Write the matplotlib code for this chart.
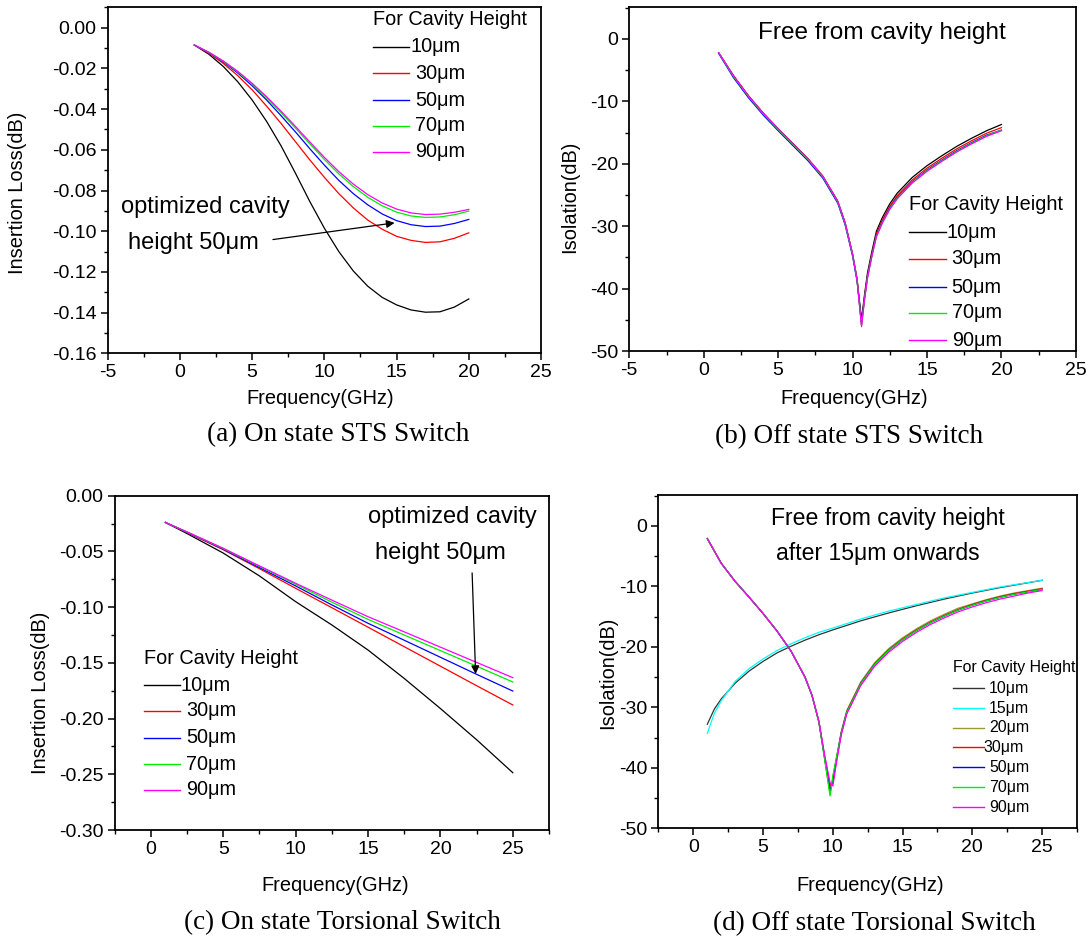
import matplotlib
matplotlib.use("Agg")
import matplotlib.pyplot as plt
from matplotlib.ticker import MultipleLocator, FormatStrFormatter
from matplotlib.lines import Line2D

plt.rcParams['font.family'] = ['Liberation Sans', 'DejaVu Sans']
plt.rcParams['axes.unicode_minus'] = False

# ---------------- data ----------------
heights5 = ["10μm", "30μm", "50μm", "70μm", "90μm"]
colors5 = ["#000000", "#ff0000", "#0000ff", "#00ee00", "#ff00ff"]

# (a) On state STS switch: insertion loss (dB)
fa = [1, 2, 3, 4, 5, 6, 7, 8, 9, 10, 11, 12, 13, 14, 15, 16, 17, 18, 19, 20]
a_10 = [-0.0085, -0.0130, -0.0190, -0.0265, -0.0355, -0.0460, -0.0580, -0.0715, -0.0855, -0.0985,
        -0.1100, -0.1195, -0.1270, -0.1325, -0.1362, -0.1387, -0.1398, -0.1396, -0.1373, -0.1333]
a_30 = [-0.0085, -0.0125, -0.0175, -0.0235, -0.0305, -0.0385, -0.0470, -0.0560, -0.0650, -0.0735,
        -0.0815, -0.0885, -0.0945, -0.0990, -0.1025, -0.1045, -0.1055, -0.1052, -0.1035, -0.1008]
a_50 = [-0.0085, -0.0122, -0.0168, -0.0222, -0.0285, -0.0355, -0.0432, -0.0512, -0.0595, -0.0675,
        -0.0750, -0.0815, -0.0870, -0.0915, -0.0948, -0.0968, -0.0977, -0.0975, -0.0962, -0.0942]
a_70 = [-0.0085, -0.0121, -0.0165, -0.0217, -0.0277, -0.0344, -0.0417, -0.0493, -0.0571, -0.0647,
        -0.0718, -0.0780, -0.0833, -0.0875, -0.0906, -0.0925, -0.0932, -0.0930, -0.0919, -0.0901]
a_90 = [-0.0085, -0.0120, -0.0163, -0.0214, -0.0273, -0.0339, -0.0410, -0.0485, -0.0562, -0.0637,
        -0.0707, -0.0768, -0.0820, -0.0861, -0.0891, -0.0910, -0.0918, -0.0916, -0.0907, -0.0893]

# (b) Off state STS switch: isolation (dB)
fb = [1, 2, 3, 4, 5, 6, 7, 8, 9, 9.5, 10, 10.3, 10.6, 10.8, 11.0, 11.3, 11.6, 12, 12.5, 13,
      14, 15, 16, 17, 18, 19, 20]
b_10 = [-2.2, -5.9, -9.1, -11.9, -14.4, -16.8, -19.2, -22.0, -26.0, -29.5, -34.5, -38.5, -45.0,
        -41.0, -37.5, -34.0, -30.8, -28.6, -26.4, -24.7, -22.2, -20.3, -18.7, -17.2, -15.9, -14.7, -13.7]
b_30 = [-2.2, -5.9, -9.1, -11.9, -14.4, -16.8, -19.2, -22.0, -26.0, -29.5, -34.5, -38.5, -45.8,
        -41.4, -37.9, -34.4, -31.2, -29.0, -26.8, -25.1, -22.6, -20.7, -19.1, -17.6, -16.3, -15.1, -14.2]
b_50 = [-2.3, -6.2, -9.4, -12.2, -14.7, -17.1, -19.5, -22.3, -26.3, -29.8, -34.8, -38.8, -45.5,
        -41.6, -38.1, -34.6, -31.5, -29.3, -27.1, -25.4, -22.9, -21.0, -19.4, -17.9, -16.6, -15.4, -14.6]
b_70 = [-2.2, -6.0, -9.2, -12.0, -14.5, -16.9, -19.3, -22.1, -26.1, -29.6, -34.6, -38.6, -45.9,
        -41.7, -38.2, -34.7, -31.6, -29.4, -27.2, -25.5, -23.0, -21.1, -19.5, -18.0, -16.7, -15.5, -14.6]
b_90 = [-2.2, -5.9, -9.1, -11.9, -14.4, -16.8, -19.2, -22.0, -26.0, -29.5, -34.5, -38.6, -46.1,
        -41.8, -38.3, -34.8, -31.7, -29.5, -27.3, -25.6, -23.1, -21.2, -19.6, -18.1, -16.8, -15.6, -14.7]

# (c) On state torsional switch: insertion loss (dB)
fc = [1, 2.5, 5, 7.5, 10, 12.5, 15, 17.5, 20, 22.5, 25]
c_10 = [-0.024, -0.034, -0.0515, -0.072, -0.0951, -0.116, -0.1385, -0.164, -0.191, -0.219, -0.2486]
c_30 = [-0.024, -0.033, -0.0485, -0.0655, -0.0831, -0.1005, -0.118, -0.1355, -0.153, -0.1705, -0.1878]
c_50 = [-0.024, -0.0328, -0.048, -0.0645, -0.081, -0.098, -0.1145, -0.1297, -0.145, -0.1603, -0.1753]
c_70 = [-0.024, -0.0326, -0.0475, -0.0635, -0.0795, -0.0955, -0.111, -0.125, -0.139, -0.153, -0.1672]
c_90 = [-0.024, -0.0325, -0.0472, -0.063, -0.0786, -0.0937, -0.1086, -0.1222, -0.1359, -0.1496, -0.1633]

# (d) Off state torsional switch: isolation (dB)
heights7 = ["10μm", "15μm", "20μm", "30μm", "50μm", "70μm", "90μm"]
colors7 = ["#333333", "#00ffff", "#999933", "#ff0000", "#0000ff", "#00ee00", "#ff00ff"]
fd_mono = [1, 1.5, 2, 3, 4, 5, 6, 7, 8, 9, 10, 12, 14, 16, 18, 20, 22, 25]
d_10 = [-32.8, -30.3, -28.6, -26.0, -24.0, -22.4, -21.0, -19.9, -18.9, -18.0, -17.2, -15.7,
        -14.4, -13.2, -12.1, -11.1, -10.2, -9.0]
d_15 = [-34.3, -31.0, -28.9, -25.7, -23.6, -22.0, -20.6, -19.5, -18.5, -17.6, -16.9, -15.4,
        -14.1, -13.0, -11.9, -11.0, -10.1, -9.0]
fd = [1, 2, 3, 4, 5, 6, 7, 8, 8.5, 9, 9.4, 9.8, 10.0, 10.2, 10.6, 11, 12, 13, 14, 15, 16, 17,
      18, 19, 20, 21, 22, 23, 24, 25]
d_20 = [-2.1, -6.2, -9.2, -11.8, -14.5, -17.4, -20.7, -25.0, -28.0, -32.5, -38.5, -44.5, -41.5,
        -39.0, -34.0, -30.5, -25.8, -22.6, -20.3, -18.5, -17.0, -15.7, -14.6, -13.6, -12.9, -12.2,
        -11.6, -11.1, -10.7, -10.3]
d_30 = [-2.1, -6.2, -9.2, -11.8, -14.5, -17.4, -20.7, -25.0, -28.0, -32.4, -38.0, -43.0, -42.5,
        -39.5, -34.2, -30.7, -26.0, -22.8, -20.5, -18.7, -17.2, -15.9, -14.8, -13.8, -13.0, -12.3,
        -11.7, -11.2, -10.8, -10.4]
d_50 = [-2.1, -6.2, -9.2, -11.8, -14.5, -17.4, -20.7, -25.0, -28.0, -32.4, -38.2, -43.8, -42.0,
        -39.3, -34.3, -30.8, -26.1, -22.9, -20.6, -18.8, -17.3, -16.0, -14.9, -13.9, -13.1, -12.4,
        -11.8, -11.3, -10.9, -10.5]
d_70 = [-2.1, -6.2, -9.2, -11.8, -14.5, -17.4, -20.7, -25.0, -28.0, -32.5, -38.4, -44.6, -41.3,
        -39.0, -34.3, -30.8, -26.1, -22.9, -20.6, -18.8, -17.3, -16.0, -14.9, -13.9, -13.1, -12.4,
        -11.8, -11.3, -10.9, -10.5]
d_90 = [-2.1, -6.2, -9.2, -11.8, -14.5, -17.4, -20.7, -25.0, -28.0, -32.3, -37.8, -42.5, -43.0,
        -40.0, -34.6, -31.1, -26.4, -23.2, -20.9, -19.1, -17.6, -16.3, -15.2, -14.2, -13.4, -12.7,
        -12.1, -11.6, -11.1, -10.7]

# ---------------- figure ----------------
W, H = 1089, 938
fig = plt.figure(figsize=(W / 100, H / 100), dpi=100)


def add_ax(l, t, r, b):
    return fig.add_axes([l / W, 1 - b / H, (r - l) / W, (b - t) / H])


axa = add_ax(107.7, 7.0, 541.0, 353.3)
axb = add_ax(629.3, 7.3, 1075.9, 351.0)
axc = add_ax(114.7, 495.7, 549.0, 830.0)
axd = add_ax(658.5, 495.0, 1077.0, 828.3)

TICK_FS = 14
LAB_FS = 14.4
LEG_FS = 14.3
LW = 0.9


def style(ax, xmaj, xmin, ymaj, ymin, yfmt):
    for s in ax.spines.values():
        s.set_linewidth(1.3)
    ax.xaxis.set_major_locator(MultipleLocator(xmaj))
    ax.xaxis.set_minor_locator(MultipleLocator(xmin))
    ax.yaxis.set_major_locator(MultipleLocator(ymaj))
    ax.yaxis.set_minor_locator(MultipleLocator(ymin))
    ax.yaxis.set_major_formatter(FormatStrFormatter(yfmt))
    ax.tick_params(which='major', direction='out', length=5, width=1.1, labelsize=TICK_FS, pad=3)
    ax.tick_params(which='minor', direction='out', length=3, width=1.0)
    ax.tick_params(top=False, right=False, which='both')


def place_labels(ax, xl, xpos, yl, ypos):
    ax.set_xlabel(xl, fontsize=LAB_FS)
    ax.set_ylabel(yl, fontsize=LAB_FS)
    ax.xaxis.set_label_coords(xpos[0] / W, 1 - xpos[1] / H, transform=fig.transFigure)
    ax.yaxis.set_label_coords(ypos[0] / W, 1 - ypos[1] / H, transform=fig.transFigure)
    ax.xaxis.label.set_va('center')
    ax.yaxis.label.set_va('center')


def manual_legend(ax, title, tpos, labels, colors, x0, x1, ys, xtexts, fs):
    ax.text(tpos[0], tpos[1], title, transform=ax.transAxes, fontsize=fs, ha='left', va='center')
    for lab, col, y, xt in zip(labels, colors, ys, xtexts):
        ax.add_line(Line2D([x0, x1], [y, y], transform=ax.transAxes, color=col, lw=1.0))
        ax.text(xt, y, lab, transform=ax.transAxes, fontsize=fs, ha='left', va='center')


# ---- (a)
for y, c in zip([a_10, a_30, a_50, a_70, a_90], colors5):
    axa.plot(fa, y, color=c, lw=LW)
axa.set_xlim(-5, 25)
axa.set_ylim(-0.16, 0.0102)
style(axa, 5, 2.5, 0.02, 0.01, '%.2f')
place_labels(axa, "Frequency(GHz)", (320, 398), "Insertion Loss(dB)", (18, 193))
manual_legend(axa, "For Cavity Height", (0.6127, 0.9625), heights5, colors5, 0.6127, 0.6959,
              [0.8845, 0.8094, 0.7314, 0.6564, 0.5813],
              [0.698, 0.7097, 0.7097, 0.7097, 0.7097], LEG_FS)
axa.text(0.0307, 0.4225, "optimized cavity", transform=axa.transAxes, fontsize=17, va='center')
axa.text(0.046, 0.3185, "height 50μm", transform=axa.transAxes, fontsize=17, va='center')
axa.annotate("", xy=(14.86, -0.0959), xytext=(6.44, -0.1041),
             arrowprops=dict(arrowstyle='-|>', color='black', lw=0.9, mutation_scale=12,
                             shrinkA=0, shrinkB=0))

# ---- (b)
for y, c in zip([b_10, b_30, b_50, b_70, b_90], colors5):
    axb.plot(fb, y, color=c, lw=LW)
axb.set_xlim(-5, 25)
axb.set_ylim(-50, 5.08)
style(axb, 5, 2.5, 10, 5, '%d')
place_labels(axb, "Frequency(GHz)", (854, 398), "Isolation(dB)", (570, 197))
axb.text(0.5658, 0.9252, "Free from cavity height", transform=axb.transAxes, fontsize=17.6,
         ha='center', va='center')
manual_legend(axb, "For Cavity Height", (0.6254, 0.4248), heights5, colors5, 0.6254, 0.7087,
              [0.3462, 0.2677, 0.1862, 0.1106, 0.032],
              [0.711, 0.7219, 0.7219, 0.7219, 0.7219], LEG_FS)

# ---- (c)
for y, c in zip([c_10, c_30, c_50, c_70, c_90], colors5):
    axc.plot(fc, y, color=c, lw=LW)
axc.set_xlim(-2.5, 27.5)
axc.set_ylim(-0.30, 0.0)
style(axc, 5, 2.5, 0.05, 0.025, '%.2f')
place_labels(axc, "Frequency(GHz)", (335, 885), "Insertion Loss(dB)", (41, 693))
axc.text(0.5826, 0.9363, "optimized cavity", transform=axc.transAxes, fontsize=17, va='center')
axc.text(0.5987, 0.8286, "height 50μm", transform=axc.transAxes, fontsize=17, va='center')
axc.annotate("", xy=(22.43, -0.160), xytext=(22.19, -0.0693),
             arrowprops=dict(arrowstyle='-|>', color='black', lw=0.9, mutation_scale=12,
                             shrinkA=0, shrinkB=0))
manual_legend(axc, "For Cavity Height", (0.0665, 0.5145), heights5, colors5, 0.0665, 0.1503,
              [0.4337, 0.3560, 0.2761, 0.1974, 0.1197],
              [0.1519, 0.1642, 0.1642, 0.1642, 0.1642], LEG_FS)

# ---- (d)
axd.plot(fd_mono, d_10, color=colors7[0], lw=LW)
axd.plot(fd_mono, d_15, color=colors7[1], lw=LW)
for y, c in zip([d_20, d_30, d_50, d_70, d_90], colors7[2:]):
    axd.plot(fd, y, color=c, lw=LW)
axd.set_xlim(-2.5, 27.5)
axd.set_ylim(-50, 5.1)
style(axd, 5, 2.5, 10, 5, '%d')
place_labels(axd, "Frequency(GHz)", (870, 885), "Isolation(dB)", (607.5, 673))
axd.text(0.5477, 0.928, "Free from cavity height", transform=axd.transAxes, fontsize=16.6,
         ha='center', va='center')
axd.text(0.5245, 0.823, "after 15μm onwards", transform=axd.transAxes, fontsize=16.6,
         ha='center', va='center')
manual_legend(axd, "For Cavity Height", (0.7047, 0.4818), heights7, colors7, 0.7047, 0.7778,
              [0.4208, 0.3609, 0.3018, 0.2439, 0.1839, 0.1239, 0.0639],
              [0.7897, 0.7897, 0.7897, 0.7754, 0.7897, 0.7897, 0.7897], 11.4)

# ---- captions
cap_kw = dict(family=['Liberation Serif', 'DejaVu Serif'], fontsize=19.5, ha='center', va='center')
fig.text(338.5 / W, 1 - 435 / H, "(a) On state STS Switch", **cap_kw)
fig.text(848.6 / W, 1 - 437 / H, "(b) Off state STS Switch", **cap_kw)
fig.text(342.7 / W, 1 - 923 / H, "(c) On state Torsional Switch", **cap_kw)
fig.text(874 / W, 1 - 924 / H, "(d) Off state Torsional Switch", **cap_kw)

fig.savefig("out.png", dpi=100)
